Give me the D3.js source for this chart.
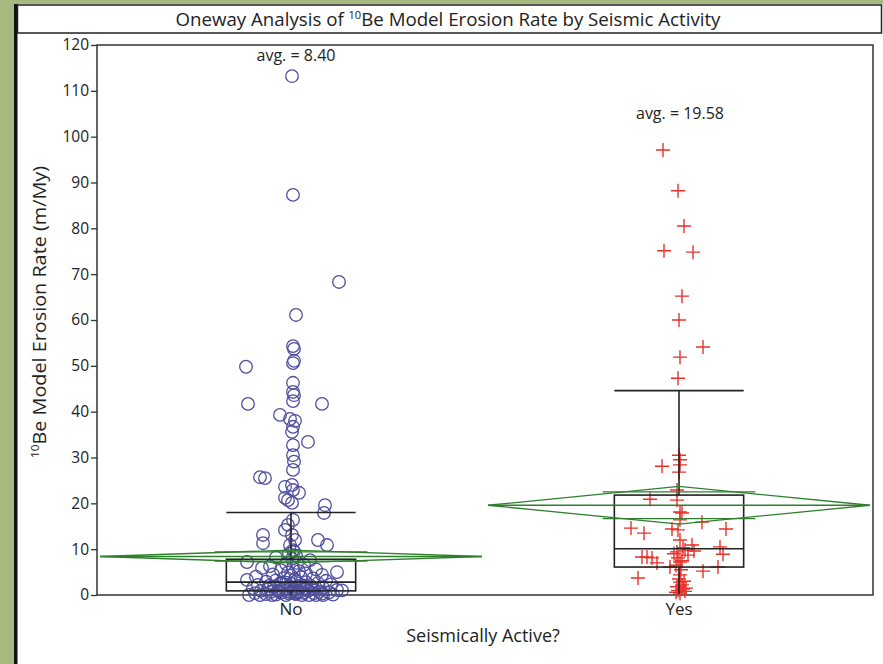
<!DOCTYPE html>
<html>
<head>
<meta charset="utf-8">
<script src="https://cdn.jsdelivr.net/npm/d3@7"></script>
<style>
  html, body { margin: 0; padding: 0; background: #a6b97f; }
  svg { display: block; }
</style>
</head>
<body>
<div id="chart"></div>
<script>
// Summary values
const categories = ['No', 'Yes'];
const yTicks = [0, 10, 20, 30, 40, 50, 60, 70, 80, 90, 100, 110, 120];
const avgLabels = ['avg. = 8.40', 'avg. = 19.58'];
const groupMeans = [8.40, 19.58];
const meanCI = [1.4, 4.1];                        // half width of the means diamond
const quartiles = [[0.9, 2.8, 7.8], [6.1, 10.1, 21.8]];
const whiskers = [[0.0, 18.0], [0.3, 44.6]];

// Points: erosion rate and jitter (-1..1)
const noValues = [
  113.2, 87.3, 68.3, 61.1, 54.3, 53.7, 51.1, 50.6, 49.8, 46.3, 44.3, 43.6, 42.3,
  41.7, 41.7, 39.3, 38.4, 38.0, 36.7, 35.6, 33.4, 32.7, 30.5, 29.1, 27.3,
  25.7, 25.5, 23.6, 24.0, 22.9, 22.3, 21.2, 20.1, 20.7, 19.6, 17.9,
  16.4, 15.3, 14.2, 13.1, 12.0, 10.9, 9.8, 13.1, 11.3, 12.0, 10.9,
  9.5, 9.0, 8.6, 8.2, 7.9, 7.6, 7.2, 7.0, 6.8, 6.6, 6.3, 6.0, 5.9, 5.6, 5.4, 5.2,
  5.0, 4.9, 4.7, 4.5, 4.4, 4.2, 4.0, 3.9, 3.7, 3.6, 3.4, 3.3, 3.2, 3.1, 3.0, 2.9,
  2.8, 2.7, 2.6, 2.5, 2.4, 2.3, 2.2, 2.1, 2.0, 1.9, 1.8, 1.7, 1.6, 1.5, 1.5, 1.4,
  1.3, 1.2, 1.1, 1.1, 1.0, 1.0, 0.9, 0.9, 0.8, 0.8, 0.7, 0.7, 0.6, 0.6, 0.5, 0.5,
  0.4, 0.4, 0.3, 0.3, 0.2, 0.2, 0.1, 0.1, 0.0, 0.0, 0.0, 0.0, 0.0, 0.0, 0.0, 0.0,
  2.4, 1.9, 1.2, 0.8, 0.5, 2.0, 1.4, 0.3
];
const noJitter = [
  0.02, 0.04, 0.96, 0.1, 0.04, 0.06, 0.06, 0.04, -0.9, 0.04, 0.04, 0.06, 0.04,
  -0.86, 0.62, -0.22, -0.02, 0.08, 0.04, 0.02, 0.34, 0.04, 0.04, 0.06, 0.04,
  -0.62, -0.52, -0.12, 0.02, 0.04, 0.16, -0.12, 0.02, -0.06, 0.68, 0.66,
  0.04, -0.06, -0.12, 0.02, 0.08, -0.02, 0.04, -0.56, -0.56, 0.54, 0.72,
  0.06, -0.04, 0.1, -0.3, 0.02, 0.38, -0.88, 0.12, -0.1, 0.26, -0.42, 0.04, -0.58, 0.5, -0.2, 0.16,
  0.92, -0.06, 0.3, -0.36, 0.62, 0.0, -0.7, 0.2, -0.14, 0.44, 0.08, -0.88, -0.3, 0.7, 0.1, -0.5,
  0.3, -0.1, 0.54, -0.22, 0.0, 0.8, -0.66, 0.18, -0.04, 0.4, -0.34, 0.12, 0.64, -0.76, 0.26, -0.12,
  0.46, -0.46, 0.92, 0.06, -0.26, 1.02, 0.34, -0.6, 0.14, -0.08, 0.56, -0.4, 0.0, 0.76, -0.2, 0.24,
  -0.72, 0.46, -0.04, 0.62, -0.5, 0.1, 0.84, -0.3, 0.64, -0.84, 0.36, -0.62, 0.22, -0.1, 0.5, -0.38,
  -0.18, 0.22, 0.3, -0.24, 0.12, -0.44, 0.42, 0.08
];
const yesValues = [
  97.1, 88.2, 80.5, 75.1, 74.8, 65.2, 60.0, 54.1, 51.9, 47.3,
  30.5, 29.5, 28.4, 26.8, 28.1,
  22.9, 20.9, 20.7, 18.1, 17.9, 15.9, 16.4,
  14.6, 13.5, 14.4, 14.4, 14.2,
  12.0, 10.9, 10.3, 9.4, 8.7, 10.5, 8.9,
  8.3, 8.3, 8.1, 7.0, 6.1, 8.1, 7.2,
  5.2, 6.1, 3.7,
  4.4, 2.8, 2.2, 1.3, 0.4, 0.8, 1.0,
  9.0, 9.8, 7.5, 6.5, 5.5, 3.0, 1.8, 1.5, 0.6, 3.5, 9.6
];
const yesJitter = [
  -0.32, -0.02, 0.1, -0.3, 0.28, 0.06, 0.0, 0.48, 0.02, -0.02,
  0.0, 0.02, 0.02, 0.0, -0.34,
  -0.04, -0.58, -0.04, 0.02, 0.06, 0.46, 0.02,
  -0.96, -0.7, 0.94, -0.14, -0.02,
  0.02, 0.26, 0.08, -0.04, 0.18, 0.82, 0.88,
  -0.74, -0.64, -0.54, -0.44, -0.18, -0.02, 0.02,
  0.48, 0.78, -0.82,
  0.02, 0.02, 0.06, 0.08, 0.02, 0.12, -0.02,
  -0.1, 0.12, 0.06, -0.06, 0.04, 0.1, -0.04, 0.14, -0.06, 0.0, 0.3
];

const W = 883, H = 664;
const margin = {left: 97, right: 10, top: 45, bottom: 69};
const font = '"Open Sans", sans-serif';

const svg = d3.select('#chart').append('svg')
    .attr('width', W).attr('height', H)
    .style('font-family', font);

// panel and frames
svg.append('rect').attr('x', 0).attr('y', 0).attr('width', W).attr('height', H).attr('fill', '#a6b97f');
svg.append('rect').attr('x', 17).attr('y', 4).attr('width', W - 17).attr('height', H - 4).attr('fill', '#fff');
svg.append('rect').attr('x', 14).attr('y', 4).attr('width', 3.5).attr('height', H - 4).attr('fill', '#111');
svg.append('rect').attr('x', 17.5).attr('y', 5).attr('width', W - 19).attr('height', 28)
    .attr('fill', 'none').attr('stroke', '#222').attr('stroke-width', 1.5);

const title = svg.append('text')
    .attr('x', 448).attr('y', 26)
    .attr('text-anchor', 'middle')
    .attr('textLength', 545).attr('lengthAdjust', 'spacingAndGlyphs')
    .style('font-size', '18.5px').attr('fill', '#222');
title.append('tspan').text('Oneway Analysis of ');
title.append('tspan').text('10').attr('dy', -7).style('font-size', '11px');
title.append('tspan').text('Be Model Erosion Rate by Seismic Activity').attr('dy', 7);

const x = d3.scaleBand()
    .domain(categories)
    .range([margin.left, W - margin.right]);

const y = d3.scaleLinear()
    .domain([0, 120])
    .range([H - margin.bottom - 0, margin.top]);

const jitterPx = 50;
const cx = (cat) => x(cat) + x.bandwidth() / 2;

// axes
svg.append('g')
    .attr('transform', `translate(${margin.left},0)`)
    .call(d3.axisLeft(y).tickValues(yTicks).tickSize(6).tickPadding(2))
    .call(g => g.select('.domain').remove())
    .call(g => g.selectAll('line').attr('stroke', '#333').attr('stroke-width', 1.3))
    .call(g => g.selectAll('text').style('font-size', '15.5px').style('font-family', font).attr('fill', '#222'));

svg.append('g')
    .attr('transform', `translate(0,${y(0)})`)
    .call(d3.axisBottom(x).tickSize(0).tickPadding(8))
    .call(g => g.select('.domain').remove())
    .call(g => g.selectAll('text').style('font-size', '17px').style('font-family', font).attr('fill', '#222'));

svg.append('rect')
    .attr('x', margin.left).attr('y', y(120))
    .attr('width', W - margin.right - margin.left).attr('height', y(0) - y(120))
    .attr('fill', 'none').attr('stroke', '#333').attr('stroke-width', 1.5);

svg.append('text')
    .attr('x', 483).attr('y', 642)
    .attr('text-anchor', 'middle')
    .style('font-size', '18px').attr('fill', '#222')
    .text('Seismically Active?');

const yl = svg.append('text')
    .attr('transform', `translate(46,${(y(0) + y(120)) / 2 - 8}) rotate(-90)`)
    .attr('text-anchor', 'middle')
    .attr('textLength', 292).attr('lengthAdjust', 'spacingAndGlyphs')
    .style('font-size', '18.5px').attr('fill', '#222');
yl.append('tspan').text('10').attr('dy', -7).style('font-size', '11px');
yl.append('tspan').text('Be Model Erosion Rate (m/My)').attr('dy', 7);

// points
const noPts = noValues.map((v, i) => ({v, j: noJitter[i]}));
const yesPts = yesValues.map((v, i) => ({v, j: yesJitter[i]}));

svg.append('g').selectAll('circle')
    .data(noPts)
    .join('circle')
    .attr('cx', d => cx('No') + d.j * jitterPx)
    .attr('cy', d => y(d.v))
    .attr('r', 6.3)
    .attr('fill', 'none')
    .attr('stroke', '#4e4e9e')
    .attr('stroke-width', 1.3);

svg.append('g').selectAll('path')
    .data(yesPts)
    .join('path')
    .attr('transform', d => `translate(${cx('Yes') + d.j * jitterPx},${y(d.v)})`)
    .attr('d', 'M-7,0H7M0,-7V7')
    .attr('stroke', '#e8322b')
    .attr('stroke-width', 1.4);

// box plots
const boxW = x.bandwidth() / 3;
categories.forEach((cat, i) => {
    const c = cx(cat);
    const [q1, med, q3] = quartiles[i];
    const [lo, hi] = whiskers[i];
    const g = svg.append('g').attr('stroke', '#222').attr('stroke-width', 1.6).attr('fill', 'none');
    g.append('rect').attr('x', c - boxW / 2).attr('y', y(q3)).attr('width', boxW).attr('height', y(q1) - y(q3));
    g.append('line').attr('x1', c - boxW / 2).attr('x2', c + boxW / 2).attr('y1', y(med)).attr('y2', y(med));
    g.append('line').attr('x1', c).attr('x2', c).attr('y1', y(q3)).attr('y2', y(hi));
    g.append('line').attr('x1', c).attr('x2', c).attr('y1', y(q1)).attr('y2', y(lo));
    g.append('line').attr('x1', c - boxW / 2).attr('x2', c + boxW / 2).attr('y1', y(hi)).attr('y2', y(hi));
});

// means diamonds
categories.forEach((cat, i) => {
    const c = cx(cat);
    const half = x.bandwidth() / 2 - 3;
    const m = groupMeans[i], ci = meanCI[i];
    const g = svg.append('g').attr('stroke', '#2f7f2f').attr('stroke-width', 1.3).attr('fill', 'none');
    g.append('path').attr('d', `M${c - half},${y(m)}L${c},${y(m + ci)}L${c + half},${y(m)}L${c},${y(m - ci)}Z`);
    g.append('line').attr('x1', c - half).attr('x2', c + half).attr('y1', y(m)).attr('y2', y(m));
    const ov = ci / Math.SQRT2, ow = half * 0.4;
    [m + ov, m - ov].forEach(v => {
        g.append('line').attr('x1', c - ow).attr('x2', c + ow).attr('y1', y(v)).attr('y2', y(v));
    });
});

// average labels above each group's highest point
const groupMax = [d3.max(noValues), d3.max(yesValues)];
const labelGap = [21, 37];
categories.forEach((cat, i) => {
    svg.append('text')
        .attr('x', cx(cat) + (i === 0 ? 5 : 1))
        .attr('y', y(groupMax[i]) - labelGap[i] + 6)
        .attr('text-anchor', 'middle')
        .style('font-size', '16px').attr('fill', '#222')
        .text(avgLabels[i]);
});
</script>
</body>
</html>
